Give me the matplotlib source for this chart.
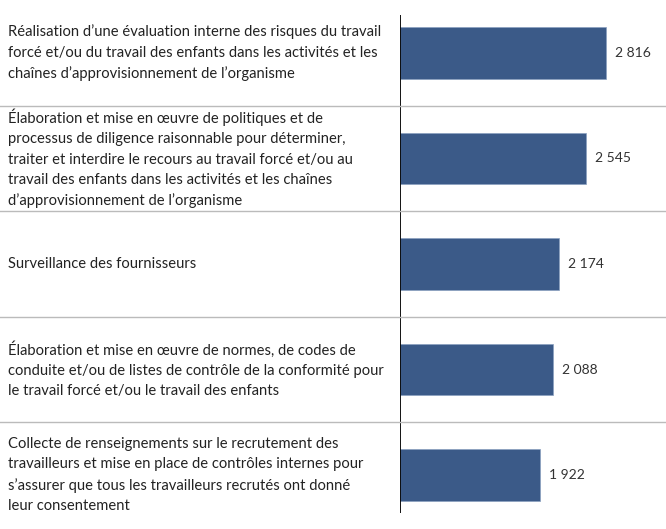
import matplotlib
matplotlib.use("Agg")
import matplotlib.pyplot as plt
from matplotlib.transforms import blended_transform_factory

categories = [
    "Réalisation d’une évaluation interne des risques du travail\nforcé et/ou du travail des enfants dans les activités et les\nchaînes d’approvisionnement de l’organisme",
    "Élaboration et mise en œuvre de politiques et de\nprocessus de diligence raisonnable pour déterminer,\ntraiter et interdire le recours au travail forcé et/ou au\ntravail des enfants dans les activités et les chaînes\nd’approvisionnement de l’organisme",
    "Surveillance des fournisseurs",
    "Élaboration et mise en œuvre de normes, de codes de\nconduite et/ou de listes de contrôle de la conformité pour\nle travail forcé et/ou le travail des enfants",
    "Collecte de renseignements sur le recrutement des\ntravailleurs et mise en place de contrôles internes pour\ns’assurer que tous les travailleurs recrutés ont donné\nleur consentement",
]
values = [2816, 2545, 2174, 2088, 1922]
value_labels = ["2 816", "2 545", "2 174", "2 088", "1 922"]

W, H = 666, 529
fig = plt.figure(figsize=(W / 100, H / 100), dpi=100)
plt.rcParams['font.family'] = ['Lato', 'DejaVu Sans']

x0 = 399.5
px_per_unit = (606 - 399.5) / 2816
ax = fig.add_axes([x0 / W, 1 - 527.75 / H, 1 - x0 / W, 527.5 / H])
ax.set_xlim(0, (W - x0) / px_per_unit)
ax.set_ylim(4.5, -0.5)
ax.axis('off')

bar_color = "#3b5a88"
ypos = list(range(len(values)))
ax.barh(ypos, values, height=0.49, color=bar_color, edgecolor="#8aa0c0", linewidth=0.5)

for y, v, lab in zip(ypos, values, value_labels):
    ax.text(v + 9 / px_per_unit, y, lab, va='center', ha='left', fontsize=10, color='#333333')

# vertical axis line
ax.plot([0, 0], [-0.36, 4.36], color='black', lw=1.3, solid_capstyle='butt')

trans = blended_transform_factory(fig.transFigure, ax.transData)
for b in [0.5, 1.5, 2.5, 3.5]:
    ax.plot([0, 1], [b, b], transform=trans, color='#bbbbbb', lw=1, clip_on=False)

for y, cat in zip(ypos, categories):
    ax.text(8 / W, y, cat, transform=trans, ha='left', va='center',
            fontsize=10.6, color='#222222', linespacing=1.57)

fig.savefig("out.png", dpi=100)
